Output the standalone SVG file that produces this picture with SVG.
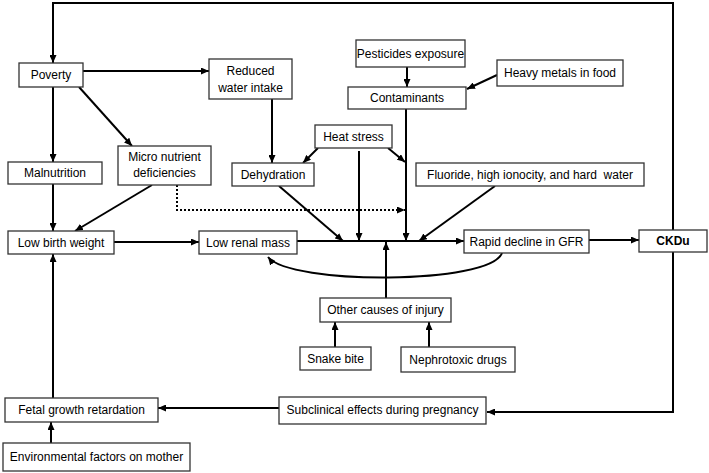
<svg xmlns="http://www.w3.org/2000/svg" width="709" height="473" viewBox="0 0 709 473">
<style>
.box{fill:#fff;stroke:#333;stroke-width:1.3}
.t{font-family:"Liberation Sans",Arial,sans-serif;font-size:12px;fill:#000;text-anchor:middle;dominant-baseline:central}
.b{font-weight:bold}
.c{fill:none;stroke:#000;stroke-width:2}
.d{stroke-dasharray:2 2}
</style>
<defs>
<marker id="ah" markerWidth="8" markerHeight="7" refX="8" refY="3.5" orient="auto" markerUnits="userSpaceOnUse">
<path d="M0,0 L8,3.5 L0,7 z" fill="#000"/>
</marker>
</defs>
<rect width="709" height="473" fill="#fff"/>
<g id="connectors">
<path class="c" d="M673,230 V3 H53 V63" marker-end="url(#ah)"/>
<path class="c" d="M83,71 H209" marker-end="url(#ah)"/>
<path class="c" d="M53,87 V162" marker-end="url(#ah)"/>
<path class="c" d="M79,87 L132,146" marker-end="url(#ah)"/>
<path class="c" d="M272,99 V163" marker-end="url(#ah)"/>
<path class="c" d="M318,148 L303,163" marker-end="url(#ah)"/>
<path class="c" d="M53,184 V231" marker-end="url(#ah)"/>
<path class="c" d="M152,185 L75,231" marker-end="url(#ah)"/>
<path class="c d" d="M177,185 V210 H405" marker-end="url(#ah)"/>
<path class="c" d="M279,186 L343,241" marker-end="url(#ah)"/>
<path class="c" d="M359,151 V241" marker-end="url(#ah)"/>
<path class="c" d="M388,148 L405,162" marker-end="url(#ah)"/>
<path class="c" d="M407,67 V87" marker-end="url(#ah)"/>
<path class="c" d="M497,75 L467,89" marker-end="url(#ah)"/>
<path class="c" d="M406,109 V241" marker-end="url(#ah)"/>
<path class="c" d="M495,186 L419,241" marker-end="url(#ah)"/>
<path class="c" d="M114,242 H199" marker-end="url(#ah)"/>
<path class="c" d="M297,241 H464" marker-end="url(#ah)"/>
<path class="c" d="M386,298 V242" marker-end="url(#ah)"/>
<path class="c" d="M335,347 V322" marker-end="url(#ah)"/>
<path class="c" d="M429,347 V322" marker-end="url(#ah)"/>
<path class="c" d="M502,253 C490,285 290,285 268,257" marker-end="url(#ah)"/>
<path class="c" d="M589,240 H639" marker-end="url(#ah)"/>
<path class="c" d="M673,252 V412 H487" marker-end="url(#ah)"/>
<path class="c" d="M279,408 H158" marker-end="url(#ah)"/>
<path class="c" d="M53,398 V254" marker-end="url(#ah)"/>
<path class="c" d="M51,443 V422" marker-end="url(#ah)"/>
</g>
<g id="poverty"><rect class="box" x="19" y="63" width="64" height="24"/><text class="t" x="51" y="75">Poverty</text></g>
<g id="reduced-water"><rect class="box" x="209" y="59" width="83" height="40"/><text class="t" x="250.5" y="71">Reduced</text><text class="t" x="250.5" y="88">water intake</text></g>
<g id="malnutrition"><rect class="box" x="8" y="162" width="94" height="22"/><text class="t" x="55" y="173">Malnutrition</text></g>
<g id="micro-nutrient"><rect class="box" x="118" y="146" width="93" height="39"/><text class="t" x="164.5" y="157">Micro nutrient</text><text class="t" x="164.5" y="173">deficiencies</text></g>
<g id="dehydration"><rect class="box" x="232" y="163" width="82" height="23"/><text class="t" x="273" y="174.5">Dehydration</text></g>
<g id="heat-stress"><rect class="box" x="315" y="125" width="77" height="23"/><text class="t" x="353.5" y="136.5">Heat stress</text></g>
<g id="pesticides"><rect class="box" x="356" y="40" width="109" height="27"/><text class="t" x="410.5" y="53.5">Pesticides exposure</text></g>
<g id="contaminants"><rect class="box" x="348" y="87" width="118" height="22"/><text class="t" x="407" y="98">Contaminants</text></g>
<g id="heavy-metals"><rect class="box" x="497" y="60" width="126" height="26"/><text class="t" x="560" y="73">Heavy metals in food</text></g>
<g id="fluoride"><rect class="box" x="416" y="163" width="228" height="23"/><text class="t" x="530" y="174.5" xml:space="preserve">Fluoride, high ionocity, and hard  water</text></g>
<g id="low-birth-weight"><rect class="box" x="8" y="231" width="106" height="23"/><text class="t" x="61" y="242.5">Low birth weight</text></g>
<g id="low-renal-mass"><rect class="box" x="199" y="231" width="98" height="23"/><text class="t" x="248" y="242.5">Low renal mass</text></g>
<g id="rapid-decline"><rect class="box" x="464" y="230" width="125" height="23"/><text class="t" x="526.5" y="241.5">Rapid decline in GFR</text></g>
<g id="ckdu"><rect class="box" x="639" y="230" width="68" height="22"/><text class="t b" x="673" y="241">CKDu</text></g>
<g id="other-causes"><rect class="box" x="320" y="298" width="131" height="24"/><text class="t" x="385.5" y="310">Other causes of injury</text></g>
<g id="snake-bite"><rect class="box" x="300" y="347" width="71" height="23"/><text class="t" x="335.5" y="358.5">Snake bite</text></g>
<g id="nephrotoxic"><rect class="box" x="401" y="347" width="114" height="25"/><text class="t" x="458" y="359.5">Nephrotoxic drugs</text></g>
<g id="subclinical"><rect class="box" x="279" y="397" width="207" height="27"/><text class="t" x="382.5" y="410">Subclinical effects during pregnancy</text></g>
<g id="fetal-growth"><rect class="box" x="5" y="398" width="153" height="24"/><text class="t" x="81.5" y="410">Fetal growth retardation</text></g>
<g id="environmental"><rect class="box" x="3" y="443" width="187" height="28"/><text class="t" x="96.5" y="457">Environmental factors on mother</text></g>
</svg>
